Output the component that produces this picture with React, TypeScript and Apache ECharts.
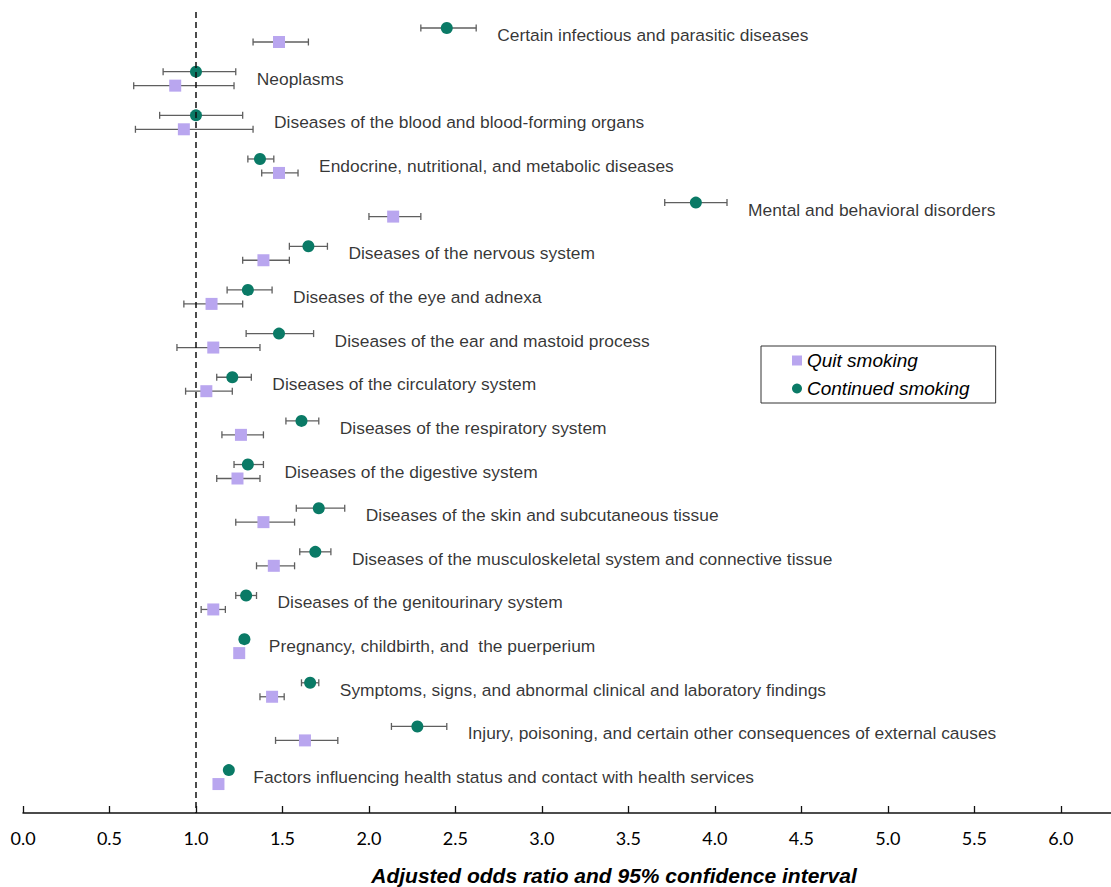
import React, { useEffect, useRef } from "react";
import * as echarts from "echarts";

const categories = [
  "Certain infectious and parasitic diseases",
  "Neoplasms",
  "Diseases of the blood and blood-forming organs",
  "Endocrine, nutritional, and metabolic diseases",
  "Mental and behavioral disorders",
  "Diseases of the nervous system",
  "Diseases of the eye and adnexa",
  "Diseases of the ear and mastoid process",
  "Diseases of the circulatory system",
  "Diseases of the respiratory system",
  "Diseases of the digestive system",
  "Diseases of the skin and subcutaneous tissue",
  "Diseases of the musculoskeletal system and connective tissue",
  "Diseases of the genitourinary system",
  "Pregnancy, childbirth, and  the puerperium",
  "Symptoms, signs, and abnormal clinical and laboratory findings",
  "Injury, poisoning, and certain other consequences of external causes",
  "Factors influencing health status and contact with health services",
];

const contOR = [2.45, 1.0, 1.0, 1.37, 3.89, 1.65, 1.3, 1.48, 1.21, 1.61, 1.3, 1.71, 1.69, 1.29, 1.28, 1.66, 2.28, 1.19];
const contLo = [2.3, 0.81, 0.79, 1.3, 3.71, 1.54, 1.18, 1.29, 1.12, 1.52, 1.22, 1.58, 1.6, 1.23, 1.26, 1.61, 2.13, 1.17];
const contHi = [2.62, 1.23, 1.27, 1.45, 4.07, 1.76, 1.44, 1.68, 1.32, 1.71, 1.39, 1.86, 1.78, 1.35, 1.3, 1.71, 2.45, 1.21];

const quitOR = [1.48, 0.88, 0.93, 1.48, 2.14, 1.39, 1.09, 1.1, 1.06, 1.26, 1.24, 1.39, 1.45, 1.1, 1.25, 1.44, 1.63, 1.13];
const quitLo = [1.33, 0.64, 0.65, 1.38, 2.0, 1.27, 0.93, 0.89, 0.94, 1.15, 1.12, 1.23, 1.35, 1.03, 1.23, 1.37, 1.46, 1.11];
const quitHi = [1.65, 1.22, 1.33, 1.59, 2.3, 1.54, 1.27, 1.37, 1.21, 1.39, 1.37, 1.57, 1.57, 1.17, 1.27, 1.51, 1.82, 1.15];

const referenceOR = 1.0;
const axisTitle = "Adjusted odds ratio and 95% confidence interval";

const FONT = "'Liberation Sans', Arial, sans-serif";
const GREEN = "#0a7a66";
const PURPLE = "#b9a6ef";

export default function App() {
  const ref = useRef<HTMLDivElement>(null);

  useEffect(() => {
    document.body.style.margin = "0";
    const chart = echarts.init(ref.current!, null, { renderer: "svg" });

    const off = 0.16;
    const contY = categories.map((_, i) => i - off);
    const quitY = categories.map((_, i) => i + off);

    const errData = [
      ...categories.map((_, i) => [contLo[i], contHi[i], contY[i]]),
      ...categories.map((_, i) => [quitLo[i], quitHi[i], quitY[i]]),
    ];

    const renderItem = (params: any, api: any) => {
      const y = api.value(2);
      const lo = api.coord([api.value(0), y]);
      const hi = api.coord([api.value(1), y]);
      const h = 3.5;
      const style = { stroke: "#5f5f5f", lineWidth: 1.3, fill: "none" };
      return {
        type: "group",
        children: [
          { type: "line", shape: { x1: lo[0], y1: lo[1], x2: hi[0], y2: hi[1] }, style },
          { type: "line", shape: { x1: lo[0], y1: lo[1] - h, x2: lo[0], y2: lo[1] + h }, style },
          { type: "line", shape: { x1: hi[0], y1: hi[1] - h, x2: hi[0], y2: hi[1] + h }, style },
        ],
      };
    };

    chart.setOption({
      animation: false,
      backgroundColor: "#ffffff",
      textStyle: { fontFamily: FONT },
      grid: { left: 23, right: 0, top: 12, bottom: 74, containLabel: false, outerBoundsMode: "none" },
      legend: {
        orient: "vertical",
        left: 761,
        top: 346,
        data: [
          { name: "Quit smoking", icon: "rect" },
          { name: "Continued smoking", icon: "circle" },
        ],
        itemWidth: 10,
        itemHeight: 10,
        itemGap: 9,
        padding: [5, 26, 5, 31],
        borderColor: "#333",
        borderWidth: 1,
        textStyle: { fontSize: 19, fontStyle: "italic", color: "#000", fontFamily: FONT },
      },
      xAxis: {
        type: "value",
        min: 0,
        max: 6.29,
        interval: 0.5,
        splitLine: { show: false },
        axisLine: { show: true, onZero: false, lineStyle: { color: "#111", width: 1.5 } },
        axisTick: { show: true, inside: true, length: 7, lineStyle: { color: "#111", width: 1.3 } },
        axisLabel: {
          showMaxLabel: false,
          margin: 16,
          fontSize: 18,
          color: "#000",
          fontFamily: "Lato, 'Open Sans', sans-serif",
          formatter: (v: number) => (Math.abs(v * 2 - Math.round(v * 2)) < 1e-6 ? v.toFixed(1) : ""),
        },
        name: axisTitle,
        nameLocation: "middle",
        nameGap: 52,
        nameTextStyle: {
          fontSize: 21,
          fontWeight: "bold",
          fontStyle: "italic",
          color: "#000",
          fontFamily: FONT,
          padding: [0, 0, 0, 94],
        },
      },
      yAxis: {
        type: "value",
        inverse: true,
        min: -0.527,
        max: 17.823,
        show: false,
      },
      series: [
        {
          type: "custom",
          name: "ci",
          renderItem,
          data: errData,
          encode: { x: [0, 1], y: 2 },
          z: 1,
          silent: true,
        },
        {
          type: "scatter",
          name: "labels",
          data: categories.map((c, i) => ({ name: c, value: [Math.max(contHi[i], quitHi[i]), i] })),
          symbolSize: 0,
          silent: true,
          label: {
            show: true,
            position: "right",
            distance: 21,
            formatter: "{b}",
            fontSize: 17.4,
            color: "#000",
            fontFamily: FONT,
          },
          markLine: {
            silent: true,
            symbol: "none",
            label: { show: false },
            lineStyle: { type: [6, 4], color: "#111", width: 1.5 },
            data: [{ xAxis: referenceOR }],
          },
          z: 2,
        },
        {
          type: "scatter",
          name: "Quit smoking",
          symbol: "rect",
          symbolSize: 12,
          itemStyle: { color: PURPLE, opacity: 1 },
          data: quitOR.map((v, i) => [v, quitY[i]]),
          z: 3,
        },
        {
          type: "scatter",
          name: "Continued smoking",
          symbol: "circle",
          symbolSize: 12,
          itemStyle: { color: GREEN, opacity: 1 },
          data: contOR.map((v, i) => [v, contY[i]]),
          z: 4,
        },
      ],
    });

    return () => chart.dispose();
  }, []);

  return <div ref={ref} style={{ width: 1111, height: 887 }} />;
}
